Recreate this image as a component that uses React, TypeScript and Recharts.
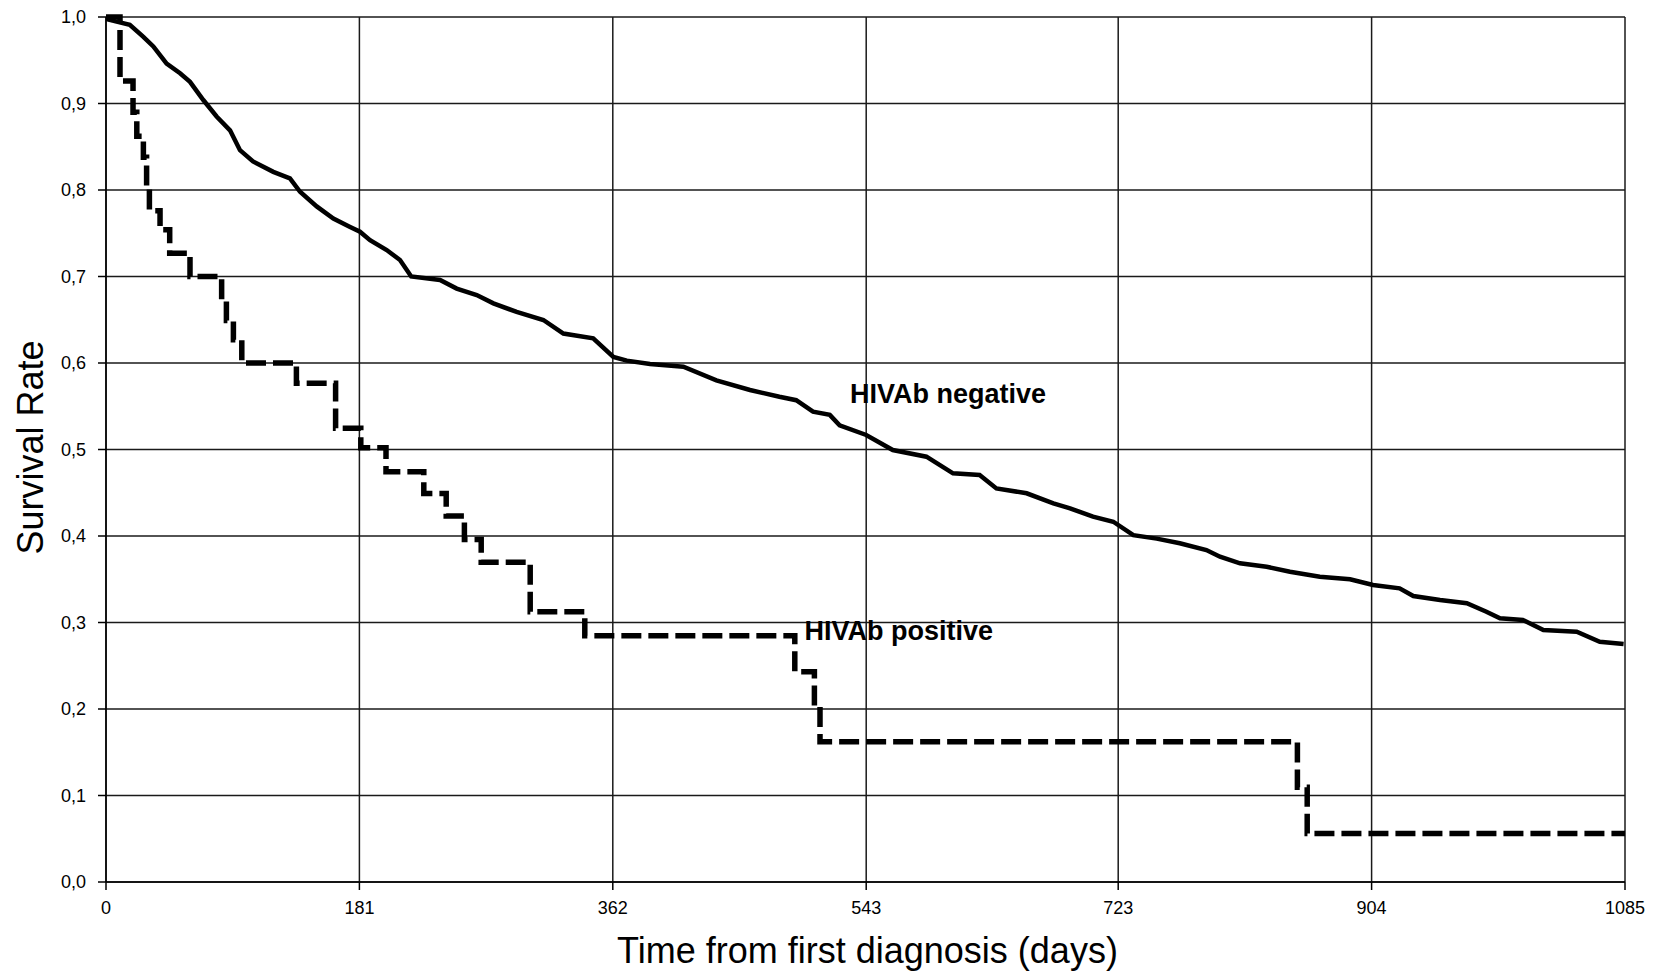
import React from 'react';
import { LineChart, Line, XAxis, YAxis, CartesianGrid, ReferenceDot, Label } from 'recharts';

const xTicks = [0, 181, 362, 543, 723, 904, 1085];
const yTicks = [0, 0.1, 0.2, 0.3, 0.4, 0.5, 0.6, 0.7, 0.8, 0.9, 1.0];

const negDays = [0, 1.6, 17, 26.7, 33.8, 43.3, 52.9, 60, 69.5, 79, 88.6, 95.7, 105, 119.5, 131.4, 138.6, 150.5, 162.4, 174, 181.4, 188.6, 200.5, 210, 218, 238.6, 250.5, 264.8, 276.7, 293.3, 312.4, 326.7, 348, 362.4, 372, 388.6, 412.4, 436, 460, 481, 493, 505, 517, 524, 543, 562, 586, 605, 624, 636, 657.6, 676.7, 688.6, 705, 719.5, 733.8, 750.5, 767, 786, 795.7, 810, 829, 845.7, 867, 888.6, 905, 924, 933.8, 952.9, 972, 986, 995.7, 1012, 1026.7, 1050.5, 1067, 1084];
const negValues = [1.0, 0.997, 0.991, 0.977, 0.966, 0.946, 0.935, 0.925, 0.904, 0.885, 0.869, 0.846, 0.833, 0.821, 0.8135, 0.798, 0.781, 0.767, 0.7576, 0.7518, 0.742, 0.7306, 0.719, 0.70, 0.696, 0.686, 0.6786, 0.669, 0.659, 0.6497, 0.634, 0.6285, 0.607, 0.6027, 0.5988, 0.5957, 0.58, 0.5688, 0.561, 0.557, 0.5437, 0.54, 0.528, 0.5168, 0.4994, 0.4917, 0.4725, 0.4705, 0.455, 0.4494, 0.4378, 0.432, 0.4223, 0.4165, 0.401, 0.397, 0.3916, 0.3838, 0.376, 0.3684, 0.3645, 0.3587, 0.353, 0.35, 0.3433, 0.3395, 0.3306, 0.326, 0.3222, 0.3125, 0.3048, 0.3029, 0.2913, 0.2894, 0.2778, 0.2751];

const posDays = [0, 10, 19.3, 22, 26.7, 29, 31, 38.6, 45.5, 60, 82.6, 86, 91, 97, 136, 164, 182, 200, 227, 243, 256, 268, 303, 342, 492, 506, 510, 851, 858, 1085];
const posValues = [1.0, 0.926, 0.89, 0.862, 0.838, 0.805, 0.776, 0.754, 0.727, 0.70, 0.673, 0.649, 0.627, 0.60, 0.5765, 0.5245, 0.502, 0.4744, 0.449, 0.423, 0.396, 0.3696, 0.3125, 0.2848, 0.243, 0.2027, 0.162, 0.1095, 0.056, 0.056];

const seriesNames = ['HIVAb negative', 'HIVAb positive'];
const axisTitles = { x: 'Time from first diagnosis (days)', y: 'Survival Rate' };

const negData = negDays.map((d, i) => ({ day: d, rate: negValues[i] }));
const posData = posDays.map((d, i) => ({ day: d, rate: posValues[i] }));

const FONT = '"Liberation Sans", Arial, sans-serif';

const fmt = (v: number) => v.toFixed(1).replace('.', ',');

const AnnotText = (props: any) => {
  const { viewBox, text } = props;
  const x = viewBox.x + viewBox.width / 2;
  const y = viewBox.y + viewBox.height / 2;
  return (
    <text x={x} y={y} fontFamily={FONT} fontSize={27} fontWeight="bold" fill="#000" textAnchor="start">
      {text}
    </text>
  );
};

const XTitle = (props: any) => {
  const { viewBox } = props;
  return (
    <text x={viewBox.x + viewBox.width / 2 + 2} y={viewBox.y + 81} fontFamily={FONT} fontSize={36} fill="#000" textAnchor="middle">
      {axisTitles.x}
    </text>
  );
};

const YTitle = (props: any) => {
  const { viewBox } = props;
  const cx = 43;
  const cy = viewBox.y + viewBox.height / 2 - 2;
  return (
    <text x={cx} y={cy} transform={`rotate(-90 ${cx} ${cy})`} fontFamily={FONT} fontSize={36} fill="#000" textAnchor="middle">
      {axisTitles.y}
    </text>
  );
};

export default function App() {
  return (
    <div style={{ position: 'absolute', left: 0, top: 0, width: 1660, height: 972, background: '#fff' }}>
      <LineChart width={1660} height={972} margin={{ top: 17, right: 35, left: 0, bottom: 0 }}>
        <CartesianGrid stroke="#1a1a1a" strokeWidth={1.5} />
        <XAxis
          type="number"
          dataKey="day"
          domain={[0, 1085]}
          ticks={xTicks}
          allowDataOverflow
          height={90}
          tickSize={8}
          tickMargin={11}
          stroke="#000"
          strokeWidth={1.5}
          tick={{ fontFamily: FONT, fontSize: 18, fill: '#000' }}
        >
          <Label content={<XTitle />} />
        </XAxis>
        <YAxis
          type="number"
          domain={[0, 1]}
          ticks={yTicks}
          width={106}
          tickSize={8}
          tickMargin={12}
          stroke="#000"
          strokeWidth={1.5}
          tickFormatter={fmt}
          tick={{ fontFamily: FONT, fontSize: 18, fill: '#000' }}
        >
          <Label content={<YTitle />} />
        </YAxis>
        <Line
          data={negData}
          dataKey="rate"
          name={seriesNames[0]}
          type="linear"
          stroke="#000"
          strokeWidth={4.5}
          dot={false}
          isAnimationActive={false}
        />
        <Line
          data={posData}
          dataKey="rate"
          name={seriesNames[1]}
          type="stepAfter"
          stroke="#000"
          strokeWidth={5.5}
          strokeDasharray="20 7"
          dot={false}
          isAnimationActive={false}
        />
        <ReferenceDot x={531.4} y={0.5538} r={0} fill="none" stroke="none" ifOverflow="visible" label={<AnnotText text={seriesNames[0]} />} />
        <ReferenceDot x={499} y={0.2798} r={0} fill="none" stroke="none" ifOverflow="visible" label={<AnnotText text={seriesNames[1]} />} />
      </LineChart>
    </div>
  );
}
